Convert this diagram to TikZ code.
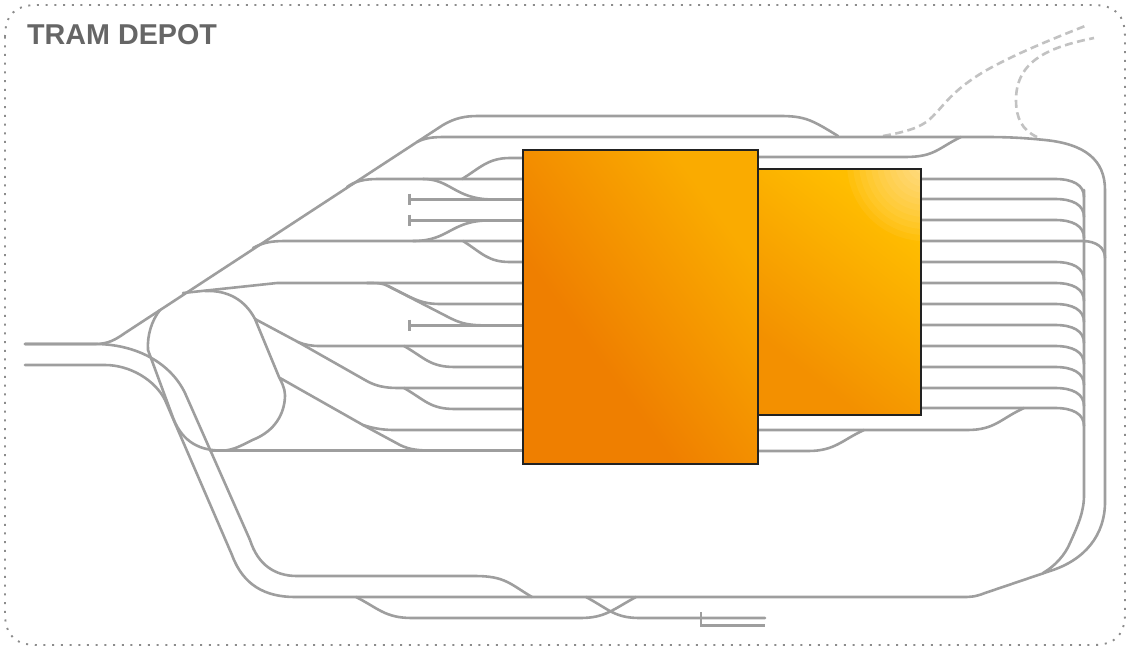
\documentclass[tikz,border=0pt]{standalone}
\usepackage{fontspec}
\setmainfont{Liberation Sans}
\definecolor{trk}{HTML}{9E9E9E}
\definecolor{dsh}{HTML}{C2C2C2}
\definecolor{frm}{HTML}{8C8C8C}
\definecolor{ttl}{HTML}{666666}
\definecolor{edgeb}{HTML}{222222}
\definecolor{oa}{HTML}{EF7F00}
\definecolor{ob}{HTML}{FAAB00}
\definecolor{oc}{HTML}{F39000}
\definecolor{od}{HTML}{FFBE00}
\pgfdeclarehorizontalshading{hallshadeA}{100bp}{color(0bp)=(oa);color(38bp)=(oa);color(72bp)=(ob);color(100bp)=(ob)}
\pgfdeclarehorizontalshading{hallshadeB}{100bp}{color(0bp)=(oc);color(30bp)=(oc);color(72bp)=(od);color(100bp)=(od)}
\tikzset{
  track/.style={draw=trk,line width=2.6pt,line cap=round,line join=round},
  bumper/.style={draw=trk,line width=2.6pt},
  future/.style={draw=dsh,line width=2.6pt,dash pattern=on 8pt off 4.5pt},
  border/.style={draw=frm,line width=1.9pt,dash pattern=on 2pt off 6.7pt},
  hall/.style={draw=edgeb,line width=1.1pt,inner sep=0pt,outer sep=0pt,anchor=north west},
}
\begin{document}
\begin{tikzpicture}[x=1pt,y=-1pt]
\useasboundingbox (0,0) rectangle (1130,651);
\draw[border] (5,37) .. controls (5,15) and (15,5) .. (37,5) -- (1093,5) .. controls (1115,5) and (1125,15) .. (1125,37) -- (1125,613) .. controls (1125,635) and (1115,645) .. (1093,645) -- (37,645) .. controls (15,645) and (5,635) .. (5,613) -- cycle;
\node[anchor=west,inner sep=0pt,text=ttl,font=\fontsize{28.7}{30}\selectfont\bfseries] (title) at (27,35) {TRAM DEPOT};
% dashed future lines
\draw[future] (883,136) .. controls (905,132) and (920,128) .. (930,119) .. controls (945,105) and (950,92) .. (985,71) .. controls (1015,54) and (1050,40) .. (1085,26);
\draw[future] (1037,137) .. controls (1022,130) and (1016,118) .. (1016,100) .. controls (1016,60) and (1050,47) .. (1094,38);
% main tracks
\draw[track] (25,344) -- (95,344) .. controls (108,344) and (115,340) .. (125,333) -- (443,125) .. controls (455,118) and (465,116) .. (478,116) -- (780,116) .. controls (805,116) and (812,120) .. (838,136);
\draw[track] (417,142) .. controls (425,138) and (432,137) .. (445,137) -- (985,137) .. controls (1010,137) and (1025,138) .. (1045,140) .. controls (1085,144) and (1105,160) .. (1105,190) -- (1105,502) .. controls (1105,535) and (1085,560) .. (1050,571) -- (985,593) .. controls (975,597) and (970,597) .. (962,597) -- (295,597) .. controls (265,597) and (243,585) .. (232,555) -- (165,400) .. controls (155,380) and (130,365) .. (105,365) -- (25,365);
\draw[track] (25,344) -- (95,344) .. controls (135,344) and (170,362) .. (185,393) -- (250,540) .. controls (258,565) and (275,576) .. (297,576) -- (475,576) .. controls (505,576) and (510,584) .. (532,597);
% inner right vertical with curve
\draw[track] (1084,190) -- (1084,495) .. controls (1084,512) and (1078,525) .. (1070,543) .. controls (1065,555) and (1055,566) .. (1043,573);
% left upper branches
\draw[track] (347,187) .. controls (355,181) and (365,179) .. (378,179) -- (523,179);
\draw[track] (423,179) .. controls (450,179) and (455,198.5) .. (490,199.4) -- (523,199.4);
\draw[track] (462,179) .. controls (480,168) and (488,158) .. (510,158) -- (523,158);
\draw[bumper] (408,199.4) -- (523,199.4) (408,220.4) -- (523,220.4) (408,325.4) -- (523,325.4);
\draw[bumper] (409.5,193.5) -- (409.5,205) (409.5,214.5) -- (409.5,226) (409.5,319.5) -- (409.5,331);
\draw[track] (253,248) .. controls (262,243) and (270,241) .. (285,241) -- (523,241);
\draw[track] (413,241) .. controls (450,241) and (450,220.4) .. (490,220.4);
\draw[track] (463,241) .. controls (482,253) and (488,262) .. (510,262) -- (523,262);
% loop
\draw[track] (183,293) -- (277,283) -- (523,283);
\draw[track] (367,283) .. controls (378,283) and (382,283) .. (388,286) -- (408,296) .. controls (420,302) and (428,304) .. (440,304) -- (523,304);
\draw[track] (388,286) -- (450,318) .. controls (462,324) and (470,325.4) .. (488,325.4);
\draw[track] (160,310) .. controls (152,320) and (147,335) .. (148,350) -- (172,415) .. controls (180,438) and (195,450.6) .. (222,450.6) .. controls (235,450.6) and (245,443) .. (257,438) .. controls (278,428) and (285,410) .. (285,395) .. controls (285,388) and (281,381) .. (279,377) -- (255,319) .. controls (245,300) and (228,290) .. (205,291);
\draw[track] (210,450.6) -- (523,450.6);
% branches from loop
\draw[track] (255,319) -- (298,342) .. controls (305,345) and (312,346) .. (320,346) -- (523,346);
\draw[track] (298,342) -- (365,380) .. controls (375,386) and (385,388) .. (398,388) -- (523,388);
\draw[track] (280,378) -- (363,425) .. controls (375,429) and (385,430) .. (395,430) -- (523,430);
\draw[track] (363,425) -- (400,445) .. controls (410,450) and (420,450.6) .. (435,450.6);
\draw[track] (404,346) .. controls (425,358) and (430,367) .. (455,367) -- (523,367);
\draw[track] (404,388) .. controls (425,400) and (430,409) .. (455,409) -- (523,409);
% right side of hall
\draw[track] (758,157) -- (905,157) .. controls (935,157) and (938,148) .. (961,137);
\foreach \yy in {179,199,220,262,283,304,325,346,367,388,408}{
  \draw[track] (921,\yy) -- (1055,\yy) .. controls (1073,\yy) and (1084,\yy+6) .. (1084,\yy+18);
}
\draw[track] (921,241) -- (1082,241) .. controls (1097,241) and (1105,248) .. (1105,258);
\draw[track] (1024,408) .. controls (1000,419) and (995,430) .. (967,430) -- (758,430);
\draw[track] (864,430) .. controls (842,440) and (835,451) .. (808,451) -- (758,451);
% bottom sidings
\draw[track] (356,597) .. controls (378,608) and (385,618) .. (412,618) -- (580,618) .. controls (605,618) and (612,610) .. (636,597);
\draw[track] (586,597) .. controls (610,610) and (615,618) .. (640,618) -- (765,618);
\draw[bumper] (701,612) -- (701,625.5) -- (765,625.5);
% halls
\node[hall,shading=hallshadeA,shading angle=36,minimum width=235pt,minimum height=314pt] (hallA) at (523,150) {};
\node[hall,shading=hallshadeB,shading angle=52,minimum width=163pt,minimum height=246pt] (hallB) at (758,169) {};
\begin{scope}
\clip (758.6,169.6) rectangle (920.4,414.4);
\foreach \rr in {12,18,...,78}{
  \fill[white,opacity=0.055] (925,163) circle[radius=\rr pt];
}
\end{scope}
\draw[edgeb,line width=1.1pt] (hallB.north west) rectangle (hallB.south east);
\end{tikzpicture}
\end{document}
